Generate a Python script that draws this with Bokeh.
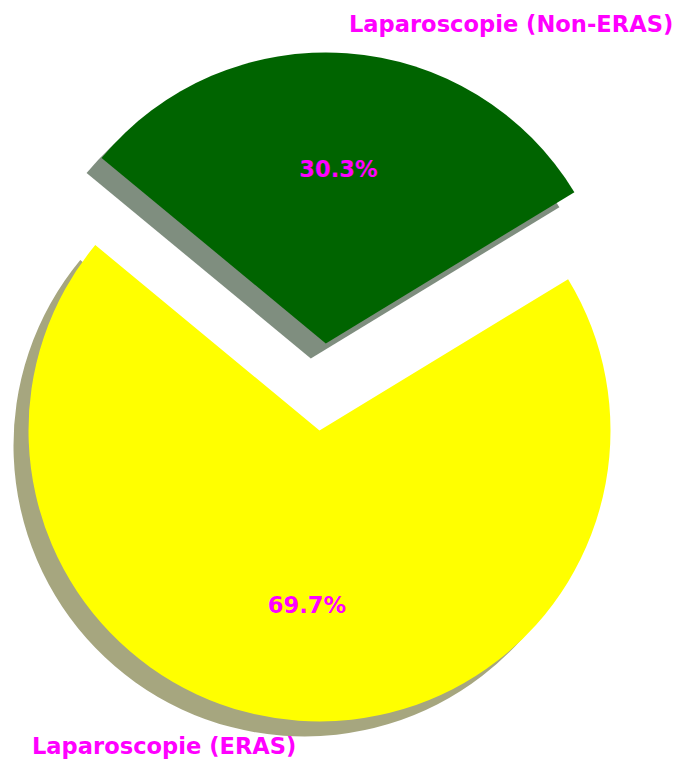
import math
from bokeh.plotting import figure
from bokeh.models import Range1d, ColumnDataSource
from bokeh.core.properties import value
from bokeh.embed import file_html
from bokeh.resources import INLINE

# ---- data ----
labels = ["Laparoscopie (ERAS)", "Laparoscopie (Non-ERAS)"]
shares = [69.7, 30.3]
colors = ["#ffff00", "#006400"]
shadow_colors = ["#4d4d00", "#001e00"]
explode = [0.0, 0.3]

# ---- layout constants (pixel-like data units) ----
W, H = 677, 761
CX, CY = 319, H - 430      # pie centre in data coords (y up)
R = 291
START = 140.4              # start angle in degrees
SHADOW_DX, SHADOW_DY = -15, -15
FONT = "DejaVu Sans"
EDGE_PAD = 4               # keep labels inside the canvas

total = sum(shares)
rows = dict(x=[], y=[], sa=[], ea=[], color=[], scolor=[], sx=[], sy=[],
            lx=[], ly=[], lab=[], align=[], px=[], py=[], pct=[])
theta = math.radians(START)
for lab, v, c, sc, ex in zip(labels, shares, colors, shadow_colors, explode):
    t2 = theta + 2 * math.pi * v / total
    tm = (theta + t2) / 2
    x = CX + ex * R * math.cos(tm)
    y = CY + ex * R * math.sin(tm)
    rows["x"].append(x); rows["y"].append(y)
    rows["sa"].append(theta); rows["ea"].append(t2)
    rows["color"].append(c); rows["scolor"].append(sc)
    rows["sx"].append(x + SHADOW_DX); rows["sy"].append(y + SHADOW_DY)
    lx = x + 1.1 * R * math.cos(tm)
    ly = y + 1.1 * R * math.sin(tm)
    ly = min(max(ly, 12 + EDGE_PAD), H - 12 - EDGE_PAD)
    rows["lx"].append(lx); rows["ly"].append(ly)
    rows["lab"].append(lab)
    rows["align"].append("left" if lx > CX else "right")
    rows["px"].append(x + 0.6 * R * math.cos(tm))
    rows["py"].append(y + 0.6 * R * math.sin(tm))
    rows["pct"].append(f"{v:.1f}%")
    theta = t2

src = ColumnDataSource(rows)

p = figure(width=W, height=H, output_backend="svg", toolbar_location=None,
           x_range=Range1d(0, W), y_range=Range1d(0, H), min_border=0)
p.axis.visible = False
p.xgrid.visible = False
p.ygrid.visible = False
p.outline_line_color = None
p.background_fill_color = "white"
p.border_fill_color = "white"

# shadows
p.wedge(x="sx", y="sy", radius=R, start_angle="sa", end_angle="ea",
        fill_color="scolor", fill_alpha=0.5, line_color=None, source=src)
# wedges
p.wedge(x="x", y="y", radius=R, start_angle="sa", end_angle="ea",
        fill_color="color", line_color=None, source=src)

# category labels
p.text(x="lx", y="ly", text="lab", text_align="align", text_baseline="middle",
       text_font=value(FONT), text_font_style="bold", text_font_size="22.6px",
       text_color="#ff00ff", source=src)
# percentage labels
p.text(x="px", y="py", text="pct", text_align="center", text_baseline="middle",
       text_font=value(FONT), text_font_style="bold", text_font_size="22.6px",
       text_color="#ff00ff", source=src)

open("out.html", "w").write(file_html(p, INLINE))
